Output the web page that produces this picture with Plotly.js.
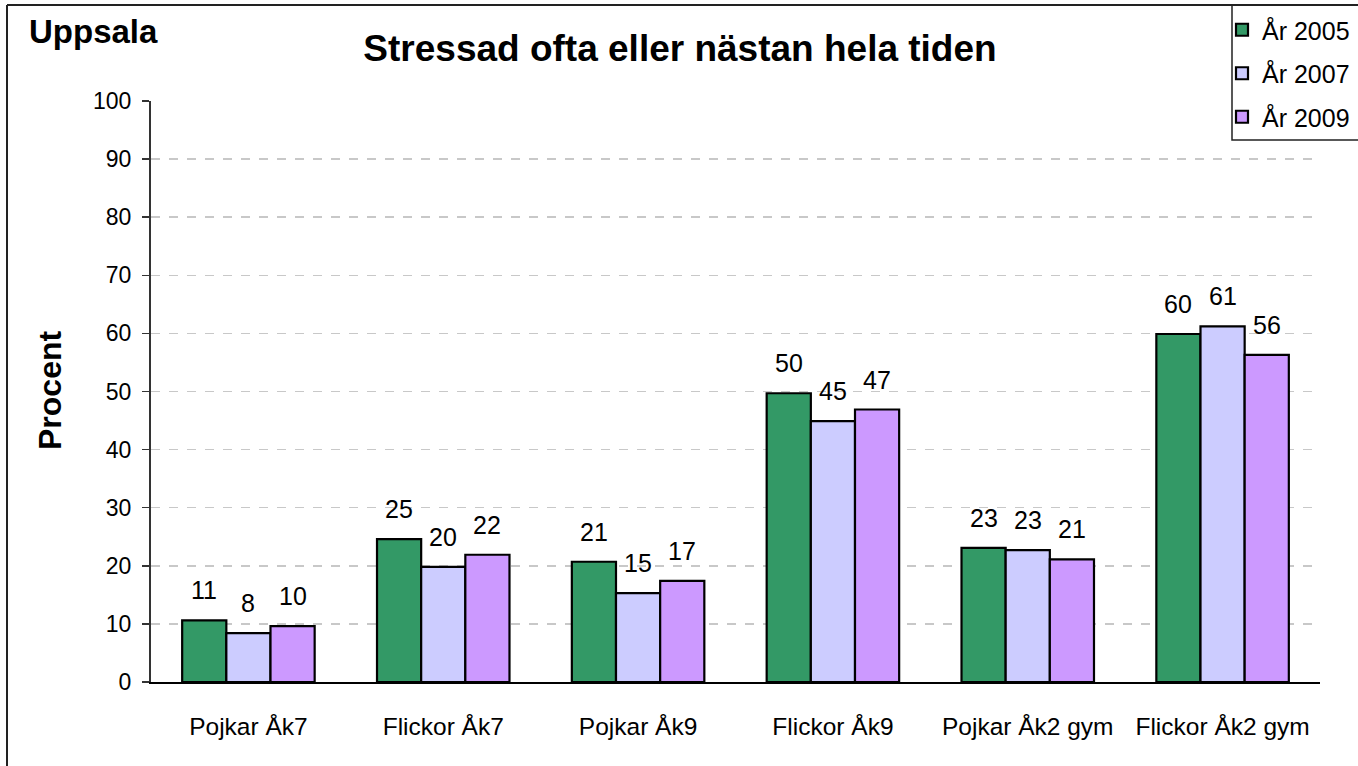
<!DOCTYPE html>
<html>
<head>
<meta charset="utf-8">
<script src="https://cdn.plot.ly/plotly-3.0.1.min.js"></script>
<style>html,body{margin:0;padding:0;background:#fff;}#chart{width:1358px;height:766px;}</style>
</head>
<body>
<div id="chart"></div>
<script>
const categories = ["Pojkar Åk7", "Flickor Åk7", "Pojkar Åk9", "Flickor Åk9", "Pojkar Åk2 gym", "Flickor Åk2 gym"];
const seriesNames = ["År 2005", "År 2007", "År 2009"];
const values2005 = [10.6, 24.6, 20.7, 49.7, 23.1, 59.9];
const values2007 = [8.4, 19.8, 15.3, 44.9, 22.7, 61.2];
const values2009 = [9.6, 21.9, 17.4, 46.9, 21.1, 56.3];
const labels2005 = ["11", "25", "21", "50", "23", "60"];
const labels2007 = ["8", "20", "15", "45", "23", "61"];
const labels2009 = ["10", "22", "17", "47", "21", "56"];
const yTicks = [0, 10, 20, 30, 40, 50, 60, 70, 80, 90, 100];

const colors = ["#339966", "#CCCCFF", "#CC99FF"];
const allValues = [values2005, values2007, values2009];
const allLabels = [labels2005, labels2007, labels2009];

const W = 1358, H = 766;
const M = {l: 151, r: 38, t: 101, b: 84, autoexpand: false};
const plotW = W - M.l - M.r, plotH = H - M.t - M.b;
const bargap = 0.32;
const barW = plotW / categories.length * (1 - bargap) / 3;
const FONT = "Liberation Sans, Arial, sans-serif";

const traces = allValues.map((vals, i) => ({
  type: "bar",
  name: seriesNames[i],
  x: categories,
  y: vals,
  legendgroup: "g" + i,
  marker: {color: colors[i], line: {color: "#000", width: 2.2}},
  hoverinfo: "x+y+name"
}));

const annotations = [];
allValues.forEach((vals, i) => {
  vals.forEach((v, j) => {
    annotations.push({
      x: categories[j], y: v, xref: "x", yref: "y",
      text: allLabels[i][j], showarrow: false,
      xshift: (i - 1) * barW, yshift: 30, yanchor: "middle",
      font: {family: FONT, size: 25, color: "#000"}
    });
  });
});
const px2x = p => (p - M.l) / plotW;
const py2y = p => (H - M.b - p) / plotH;
annotations.push({
  xref: "paper", yref: "paper", x: px2x(27), y: py2y(32), xanchor: "left", yanchor: "middle",
  text: "<b>Uppsala</b>", showarrow: false, font: {family: FONT, size: 33, color: "#000"}
});
annotations.push({
  xref: "paper", yref: "paper", x: px2x(50), y: py2y(391), xanchor: "center", yanchor: "middle",
  text: "<b>Procent</b>", textangle: -90, showarrow: false, font: {family: FONT, size: 32, color: "#000"}
});

const shapes = [
  {type: "line", xref: "paper", yref: "paper", x0: px2x(7), x1: px2x(1360), y0: py2y(5), y1: py2y(5), line: {color: "#222", width: 2}},
  {type: "line", xref: "paper", yref: "paper", x0: px2x(7), x1: px2x(7), y0: py2y(5), y1: py2y(770), line: {color: "#222", width: 2}},
  {type: "rect", xref: "paper", yref: "paper", x0: px2x(1232), x1: px2x(1362), y0: py2y(5), y1: py2y(140), line: {color: "#222", width: 1.5}}
];

const layout = {
  width: W, height: H,
  margin: M,
  paper_bgcolor: "#fff", plot_bgcolor: "#fff",
  font: {family: FONT, color: "#000"},
  title: {text: "<b>Stressad ofta eller nästan hela tiden</b>", x: 680 / W, xanchor: "center", y: 1 - 48 / H, yanchor: "middle",
          font: {family: FONT, size: 37, color: "#000"}},
  barmode: "group", bargap: bargap, bargroupgap: 0,
  showlegend: true,
  legend: {x: px2x(1222), xanchor: "left", y: py2y(7), yanchor: "top", borderwidth: 0, bgcolor: "rgba(0,0,0,0)",
           font: {family: FONT, size: 25, color: "#000"}, tracegroupgap: 8, traceorder: "grouped"},
  xaxis: {type: "category", showline: true, linecolor: "#000", linewidth: 2, ticks: "", showgrid: false,
          tickfont: {family: FONT, size: 24.5, color: "#000"}, ticklabelstandoff: 22, fixedrange: true},
  yaxis: {range: [0, 100], tickvals: yTicks, showline: true, linecolor: "#333", linewidth: 2,
          ticks: "outside", ticklen: 7, tickcolor: "#333", tickwidth: 1.5,
          showgrid: true, gridcolor: "#c8c8c8", griddash: "dash", gridwidth: 1.5, zeroline: false,
          tickfont: {family: FONT, size: 23, color: "#000"}, ticklabelstandoff: 6, fixedrange: true},
  annotations: annotations,
  shapes: shapes
};

Plotly.newPlot("chart", traces, layout, {displayModeBar: false, staticPlot: true});
</script>
</body>
</html>
